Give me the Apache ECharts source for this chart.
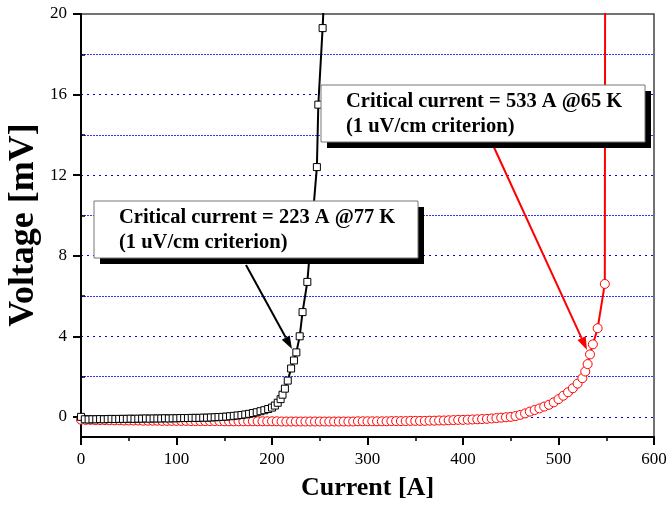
<!DOCTYPE html>
<html>
<head>
<meta charset="utf-8">
<script src="https://cdn.jsdelivr.net/npm/echarts@6/dist/echarts.min.js"></script>
<style>
  html, body { margin: 0; padding: 0; background: #fff; }
  #chart { width: 668px; height: 506px; }
</style>
</head>
<body>
<div id="chart"></div>
<script>
// 77 K run (black squares)
const current77 = [0, 4, 8, 12, 16, 20, 24, 28, 32, 36, 40, 44, 48, 52, 56, 60, 64, 68, 72, 76,
  80, 84, 88, 92, 96, 100, 104, 108, 112, 116, 120, 124, 128, 132, 136, 140, 144, 148, 152, 156,
  160, 164, 168, 172, 176, 180, 184, 188, 192, 196,
  200, 203, 206, 209, 211, 213.5, 216.5, 220, 223, 225.5, 229, 232, 237, 247, 248.5, 253, 256];
const voltage77 = [0.0, -0.12, -0.13, -0.12, -0.12, -0.11, -0.12, -0.11, -0.1, -0.11,
  -0.1, -0.1, -0.1, -0.09, -0.1, -0.09, -0.09, -0.08, -0.09, -0.08,
  -0.08, -0.08, -0.07, -0.08, -0.07, -0.07, -0.06, -0.06, -0.06, -0.05,
  -0.05, -0.05, -0.04, -0.04, -0.03, -0.02, -0.01, 0.0, 0.01, 0.03,
  0.05, 0.07, 0.09, 0.12, 0.15, 0.19, 0.23, 0.28, 0.33, 0.39,
  0.46, 0.56, 0.7, 0.88, 1.1, 1.4, 1.8, 2.4, 2.8, 3.2, 4.0, 5.2, 6.7, 12.4, 15.5, 19.3, 22.5];

// 65 K run (red circles)
const current65 = [0, 5, 10, 15, 20, 25, 30, 35, 40, 45, 50, 55, 60, 65, 70, 75, 80, 85, 90, 95,
  100, 105, 110, 115, 120, 125, 130, 135, 140, 145, 150, 155, 160, 165, 170, 175, 180, 185, 190, 195,
  200, 205, 210, 215, 220, 225, 230, 235, 240, 245, 250, 255, 260, 265, 270, 275, 280, 285, 290, 295,
  300, 305, 310, 315, 320, 325, 330, 335, 340, 345, 350, 355, 360, 365, 370, 375, 380, 385, 390, 395,
  400, 405, 410, 415, 420, 425, 430, 435, 440, 445, 450, 455, 460, 465, 470, 475, 480, 485, 490, 495,
  500, 505, 510, 515, 520, 525, 528, 530.5, 533, 536, 541, 548.5, 549];
const voltage65 = [-0.14, -0.15, -0.15, -0.16, -0.16, -0.16, -0.17, -0.17, -0.17, -0.18,
  -0.18, -0.18, -0.18, -0.19, -0.19, -0.19, -0.19, -0.2, -0.2, -0.2,
  -0.2, -0.2, -0.2, -0.21, -0.21, -0.21, -0.21, -0.21, -0.21, -0.21,
  -0.22, -0.22, -0.22, -0.22, -0.22, -0.22, -0.22, -0.22, -0.22, -0.22,
  -0.22, -0.22, -0.23, -0.23, -0.23, -0.23, -0.23, -0.23, -0.23, -0.23,
  -0.23, -0.23, -0.23, -0.23, -0.23, -0.23, -0.23, -0.23, -0.22, -0.22,
  -0.22, -0.22, -0.22, -0.22, -0.22, -0.21, -0.21, -0.21, -0.21, -0.2,
  -0.2, -0.2, -0.2, -0.19, -0.19, -0.18, -0.18, -0.17, -0.16, -0.15,
  -0.15, -0.14, -0.13, -0.12, -0.11, -0.1, -0.08, -0.06, -0.04, -0.02,
  0.0, 0.04, 0.1, 0.17, 0.26, 0.34, 0.42, 0.51, 0.6, 0.72,
  0.88, 1.05, 1.22, 1.42, 1.65, 1.92, 2.25, 2.62, 3.1, 3.6, 4.4, 6.6, 30];

const xTicks = [0, 100, 200, 300, 400, 500, 600];
const yMajor = [0, 4, 8, 12, 16, 20];
const yMinor = [2, 6, 10, 14, 18];
const yGridSparse = [0, 4, 8, 12, 16];

const font = '"Liberation Serif", "Times New Roman", serif';

function pairs(xs, ys) {
  return xs.map((x, i) => [x, ys[i]]);
}

// arrow = line + filled head
function arrow(x1, y1, x2, y2, color) {
  const dx = x2 - x1, dy = y2 - y1;
  const len = Math.sqrt(dx * dx + dy * dy);
  const ux = dx / len, uy = dy / len;
  const hl = 13, hw = 4.5;
  const bx = x2 - ux * hl, by = y2 - uy * hl;
  return [
    { type: 'line', z: 100, shape: { x1: x1, y1: y1, x2: bx, y2: by },
      style: { stroke: color, lineWidth: 2 } },
    { type: 'polygon', z: 100,
      shape: { points: [[x2, y2], [bx - uy * hw, by + ux * hw], [bx + uy * hw, by - ux * hw]] },
      style: { fill: color } }
  ];
}

function noteBox(left, top, line1, line2) {
  const w = 324, h = 57;
  return [
    { type: 'rect', z: 100, shape: { x: left + 6, y: top + 6, width: w, height: h }, style: { fill: '#000' } },
    { type: 'rect', z: 101, shape: { x: left, y: top, width: w, height: h },
      style: { fill: '#fff', stroke: '#777', lineWidth: 1 } },
    { type: 'text', z: 102, style: { x: left + 25, y: top + 17, text: line1, fill: '#000',
      font: 'bold 20.5px ' + font, textVerticalAlign: 'middle' } },
    { type: 'text', z: 102, style: { x: left + 25, y: top + 42, text: line2, fill: '#000',
      font: 'bold 20.5px ' + font, textVerticalAlign: 'middle' } }
  ];
}

const chart = echarts.init(document.getElementById('chart'));

const option = {
  animation: false,
  backgroundColor: '#fff',
  grid: { left: 81, right: 14, top: 14, bottom: 69, outerBoundsMode: 'none', containLabel: false,
    show: true, borderColor: '#444', borderWidth: 1.5 },
  xAxis: {
    type: 'value', min: 0, max: 600, interval: 100,
    name: 'Current [A]', nameLocation: 'middle', nameGap: 38,
    nameTextStyle: { fontFamily: font, fontWeight: 'bold', fontSize: 26, color: '#000' },
    axisLine: { show: true, onZero: false, lineStyle: { color: '#000', width: 2 } },
    axisTick: { show: true, length: 8, lineStyle: { color: '#000', width: 2 } },
    minorTick: { show: true, splitNumber: 2, length: 4, lineStyle: { color: '#000', width: 1.5 } },
    axisLabel: { fontFamily: font, fontSize: 17, color: '#000', margin: 14,
      customValues: xTicks },
    splitLine: { show: false }
  },
  yAxis: [
    {
      type: 'value', min: -1, max: 20,
      axisLine: { show: true, onZero: false, lineStyle: { color: '#000', width: 2 } },
      axisTick: { show: true, length: 8, customValues: yMajor, lineStyle: { color: '#000', width: 2 } },
      axisLabel: { fontFamily: font, fontSize: 17, color: '#000', margin: 14, customValues: yMajor },
      splitLine: { show: false }
    },
    {
      type: 'value', min: -1, max: 20,
      axisLine: { show: false },
      axisTick: { show: true, length: 4, customValues: yMinor, lineStyle: { color: '#000', width: 1.5 } },
      axisLabel: { show: false },
      splitLine: { show: true, lineStyle: { color: '#3333ff', width: 1, type: [2, 1] } }
    },
    {
      type: 'value', min: -1, max: 20,
      axisLine: { show: false },
      axisTick: { show: false, customValues: yGridSparse },
      axisLabel: { show: false },
      splitLine: { show: true, lineStyle: { color: '#0000ee', width: 1, type: [2, 4] } }
    }
  ],
  series: [
    {
      name: '65 K', type: 'line', data: pairs(current65, voltage65),
      symbol: 'circle', symbolSize: 9,
      lineStyle: { color: '#ff0000', width: 2 },
      itemStyle: { color: '#fff', borderColor: '#ff0000', borderWidth: 1 }
    },
    {
      name: '77 K', type: 'line', data: pairs(current77, voltage77),
      symbol: 'rect', symbolSize: 7,
      lineStyle: { color: '#000', width: 2 },
      itemStyle: { color: '#fff', borderColor: '#000', borderWidth: 1 }
    }
  ],
  graphic: [].concat(
    [{ type: 'text', x: 24, y: 225, rotation: Math.PI / 2,
       style: { text: 'Voltage [mV]', fill: '#000', font: 'bold 36px ' + font,
         textAlign: 'center', textVerticalAlign: 'middle' } }],
    arrow(492, 143, 587, 350, '#ff0000'),
    arrow(246, 265, 292, 349, '#000'),
    noteBox(321, 85, 'Critical current = 533 A @65 K', '(1 uV/cm criterion)'),
    noteBox(94, 201, 'Critical current = 223 A @77 K', '(1 uV/cm criterion)')
  )
};

chart.setOption(option);
</script>
</body>
</html>
